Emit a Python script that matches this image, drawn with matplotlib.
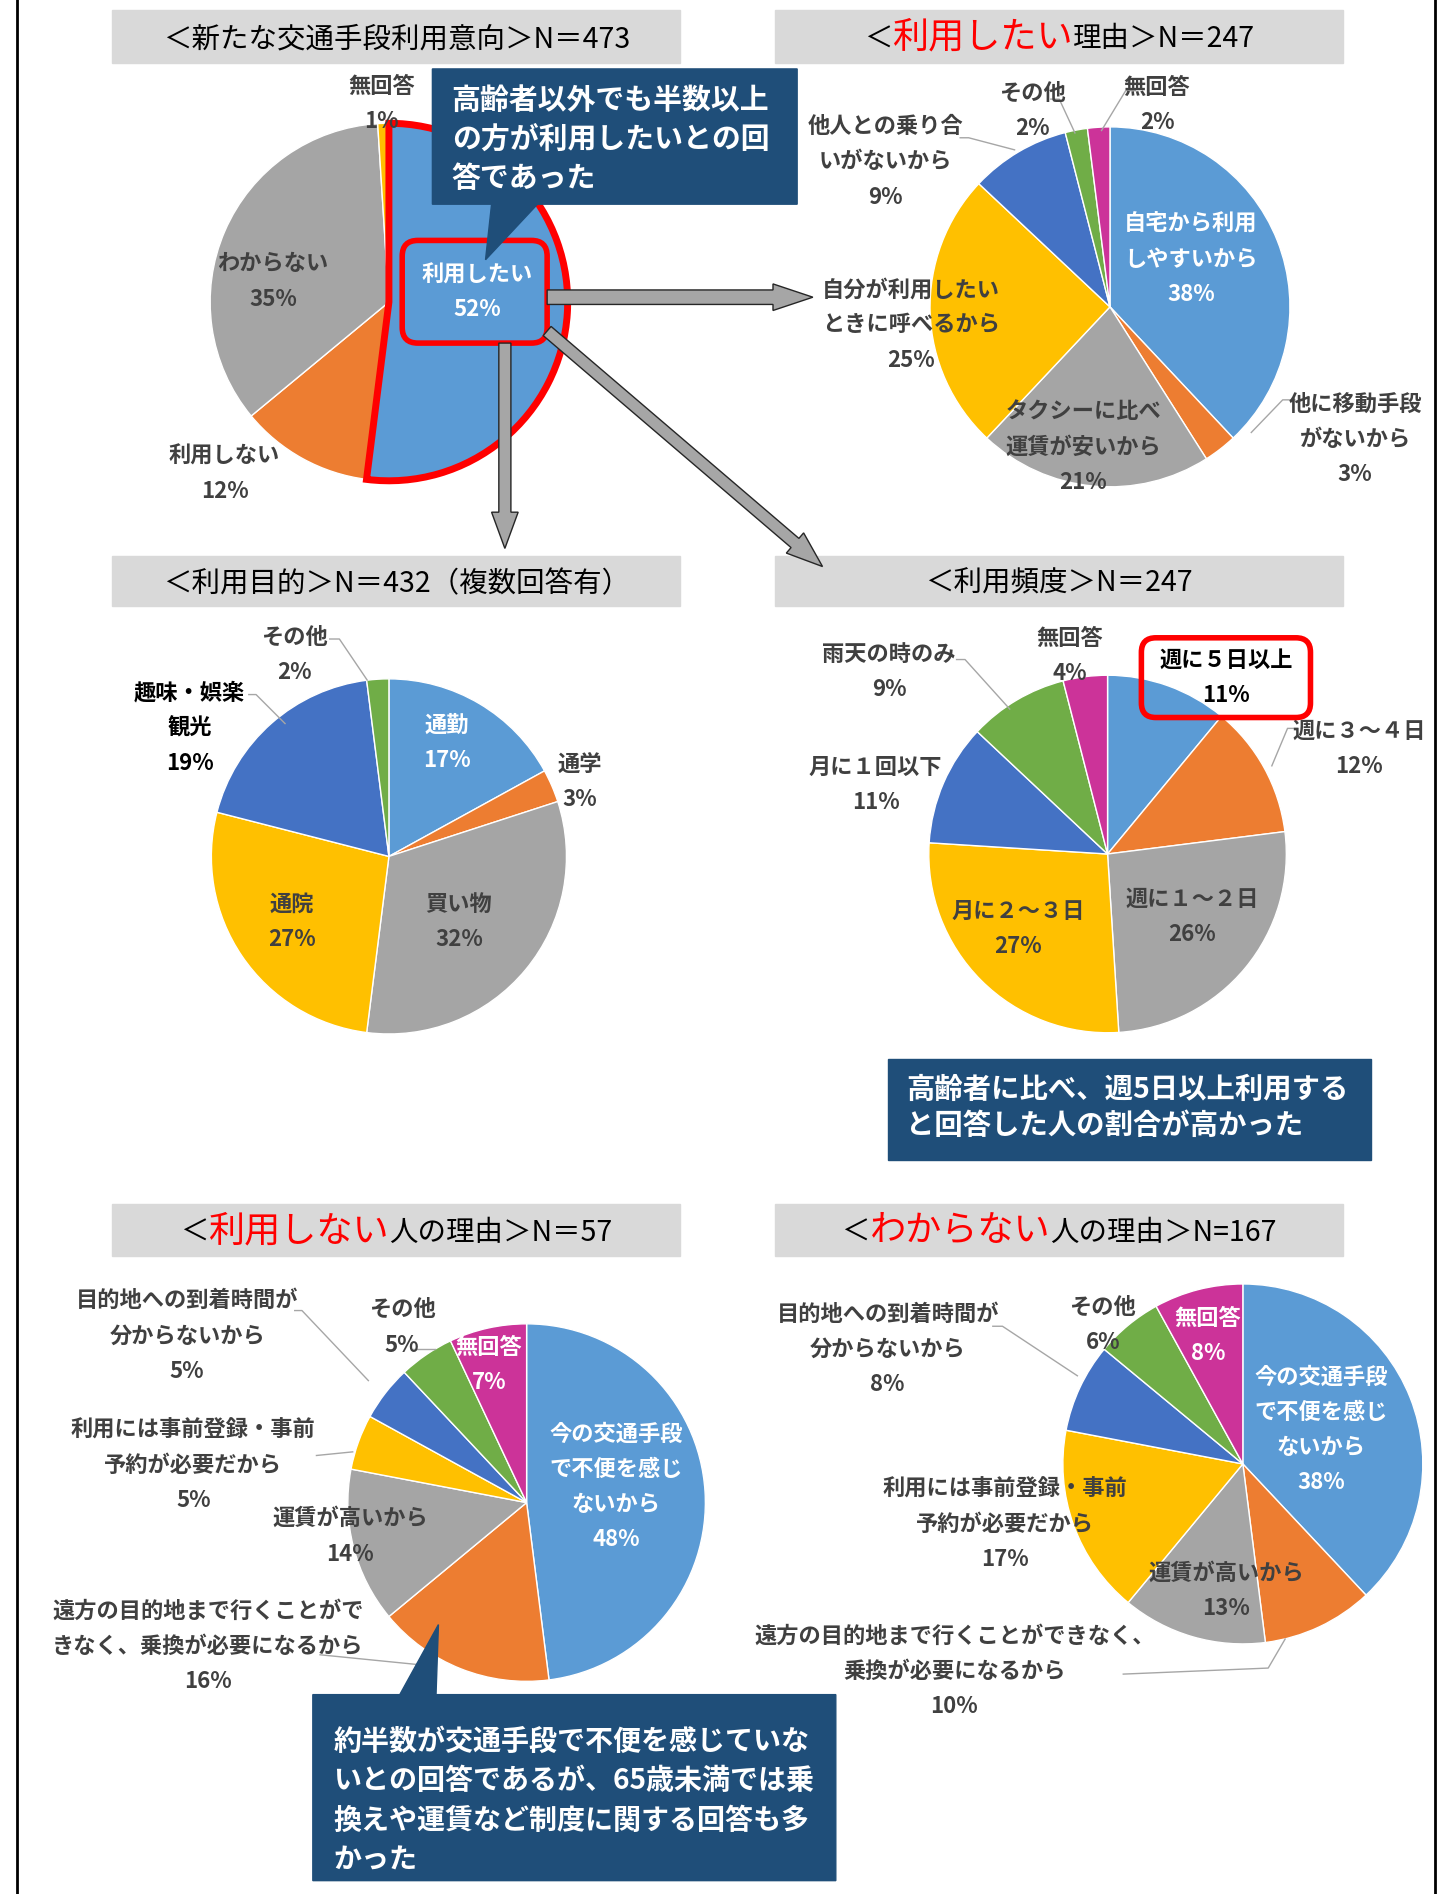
import matplotlib.pyplot as plt
from matplotlib.patches import Rectangle, FancyBboxPatch, Polygon, FancyArrow

plt.rcParams['font.family'] = ['Noto Sans CJK JP', 'DejaVu Sans']

# layout units: reference picture at 1203 x 1568
W, H = 1203, 1568
FIG_PX = 1453

BLUE, ORANGE, GRAY, YELLOW = '#5B9BD5', '#ED7D31', '#A5A5A5', '#FFC000'
DBLUE, GREEN, MAGENTA = '#4472C4', '#70AD47', '#CC3399'
NAVY, TXT = '#1F4E79', '#404040'

# === data ===
intent_labels = ['利用したい', '利用しない', 'わからない', '無回答']
intent_values = [52, 12, 35, 1]

use_reason_labels = ['自宅から利用\nしやすいから', '他に移動手段\nがないから', 'タクシーに比べ\n運賃が安いから',
                     '自分が利用したい\nときに呼べるから', '他人との乗り合\nいがないから', 'その他', '無回答']
use_reason_values = [38, 3, 21, 25, 9, 2, 2]

purpose_labels = ['通勤', '通学', '買い物', '通院', '趣味・娯楽\n観光', 'その他']
purpose_values = [17, 3, 32, 27, 19, 2]

freq_labels = ['週に５日以上', '週に３～４日', '週に１～２日', '月に２～３日', '月に１回以下', '雨天の時のみ', '無回答']
freq_values = [11, 12, 26, 27, 11, 9, 4]

notuse_labels = ['今の交通手段\nで不便を感じ\nないから', '遠方の目的地まで行くことがで\nきなく、乗換が必要になるから',
                 '運賃が高いから', '利用には事前登録・事前\n予約が必要だから', '目的地への到着時間が\n分からないから',
                 'その他', '無回答']
notuse_values = [48, 16, 14, 5, 5, 5, 7]

unknown_labels = ['今の交通手段\nで不便を感じ\nないから', '遠方の目的地まで行くことができなく、\n乗換が必要になるから',
                  '運賃が高いから', '利用には事前登録・事前\n予約が必要だから', '目的地への到着時間が\n分からないから',
                  'その他', '無回答']
unknown_values = [38, 10, 13, 17, 8, 6, 8]

COLS7 = [BLUE, ORANGE, GRAY, YELLOW, DBLUE, GREEN, MAGENTA]


def Y(v):
    return H - v


fig = plt.figure(figsize=(14.53, 18.94), dpi=100)
ax = fig.add_axes([0, 0, 1, 1])
renderer = fig.canvas.get_renderer()

# frame
ax.plot([14, 14], [0, H], color='black', lw=2)
ax.plot([1188, 1188], [0, H], color='black', lw=2)


def title(box, parts):
    x0, y0, x1, y1 = box
    ax.add_patch(Rectangle((x0, Y(y1)), x1 - x0, y1 - y0, color='#D9D9D9', zorder=1))
    base = Y((y0 + y1) / 2 + 9)
    texts = []
    for s, col, size in parts:
        t = ax.text(0, base, s, color=col, fontsize=size, va='baseline', ha='left', zorder=2)
        texts.append(t)
    widths = [t.get_window_extent(renderer).width * W / FIG_PX for t in texts]
    x = (x0 + x1) / 2 - sum(widths) / 2
    for t, w in zip(texts, widths):
        t.set_x(x)
        x += w


def pie(values, labels, colors, center, r, label_pos, label_cols, leaders=()):
    wedges, _ = ax.pie(values, colors=colors, startangle=90, counterclock=False,
                       center=(center[0], Y(center[1])), radius=r, frame=True,
                       wedgeprops=dict(edgecolor='white', linewidth=1))
    for lab, v, (lx, ly), col in zip(labels, values, label_pos, label_cols):
        ax.text(lx, Y(ly), f'{lab}\n{v}%', ha='center', va='center', fontsize=16,
                fontweight='bold', color=col, linespacing=1.68, zorder=7)
    for pts in leaders:
        ax.plot([p[0] for p in pts], [Y(p[1]) for p in pts], color='#A6A6A6', lw=1, zorder=6)
    return wedges


def callout(pts, lines_xy, text, size, spacing):
    ax.add_patch(Polygon([(x, Y(y)) for x, y in pts], closed=True, color=NAVY, zorder=8))
    ax.text(lines_xy[0], Y(lines_xy[1]), text, color='white', fontsize=size, fontweight='bold',
            ha='left', va='center', linespacing=spacing, zorder=9)


def arrow(p0, p1, width, hw, hl):
    ax.add_patch(FancyArrow(p0[0], Y(p0[1]), p1[0] - p0[0], -(p1[1] - p0[1]), width=width,
                            head_width=hw, head_length=hl, length_includes_head=True,
                            facecolor='#A6A6A6', edgecolor='#262626', linewidth=1, zorder=5))


# ===== titles =====
title((93, 8, 563, 52), [('＜新たな交通手段利用意向＞N＝473', 'black', 20.5)])
title((642, 8, 1112, 52), [('＜', 'black', 20.5), ('利用したい', 'red', 26), ('理由＞N＝247', 'black', 20.5)])
title((93, 460, 563, 502), [('＜利用目的＞N＝432（複数回答有）', 'black', 20.5)])
title((642, 460, 1112, 502), [('＜利用頻度＞N＝247', 'black', 20.5)])
title((93, 997, 563, 1040), [('＜', 'black', 20.5), ('利用しない', 'red', 26), ('人の理由＞N＝57', 'black', 20.5)])
title((642, 997, 1112, 1040), [('＜', 'black', 20.5), ('わからない', 'red', 26), ('人の理由＞N=167', 'black', 20.5)])

# ===== pie 1: intention =====
w1 = pie(intent_values, intent_labels, [BLUE, ORANGE, GRAY, YELLOW], (322, 250), 148,
         [(395, 242), (186, 392), (226, 233), (316, 86)], ['white', TXT, TXT, TXT])
w1[0].set_edgecolor('red')
w1[0].set_linewidth(5)
w1[0].set_zorder(3)
ax.add_patch(FancyBboxPatch((333, Y(284)), 120, 85, boxstyle='round,pad=0,rounding_size=13',
                            facecolor='none', edgecolor='red', linewidth=4, zorder=4))

# ===== pie 2: reasons to use =====
pie(use_reason_values, use_reason_labels, COLS7, (919, 254), 149,
    [(986, 215), (1122, 364), (897, 370), (754, 269), (733, 134), (855, 92), (958, 87)],
    ['white', TXT, TXT, TXT, TXT, TXT, TXT],
    [[(795, 114), (802, 114), (840, 124)], [(870, 82), (877, 82), (890, 110)],
     [(940, 75), (932, 75), (912, 108)], [(1072, 331), (1062, 331), (1036, 358)]])

# ===== pie 3: purpose =====
pie(purpose_values, purpose_labels, COLS7[:6], (322, 709), 147,
    [(370, 615), (480, 647), (380, 763), (242, 763), (157, 603), (244, 542)],
    ['white', TXT, TXT, TXT, 'black', TXT],
    [[(273, 529), (281, 529), (304, 563)], [(206, 575), (212, 575), (236, 599)]])

# ===== pie 4: frequency =====
pie(freq_values, freq_labels, COLS7, (917, 707), 148,
    [(1015, 561), (1125, 620), (987, 759), (843, 769), (725, 650), (736, 556), (886, 543)],
    ['black', TXT, TXT, TXT, TXT, TXT, TXT],
    [[(792, 546), (799, 546), (836, 587)], [(1074, 603), (1066, 603), (1053, 634)]])
ax.add_patch(FancyBboxPatch((945, Y(594)), 140, 66, boxstyle='round,pad=0,rounding_size=12',
                            facecolor='none', edgecolor='red', linewidth=4, zorder=8))

# ===== pie 5: reasons not to use =====
pie(notuse_values, notuse_labels, COLS7, (436, 1244), 148,
    [(510, 1231), (172, 1363), (290, 1272), (160, 1213), (155, 1106), (333, 1099), (405, 1130)],
    ['white', TXT, TXT, TXT, TXT, TXT, 'white'],
    [[(244, 1085), (250, 1085), (305, 1143)], [(262, 1205), (292, 1202)],
     [(340, 1117), (360, 1117)], [(265, 1370), (345, 1378)]])

# ===== pie 6: reasons "don't know" =====
pie(unknown_values, unknown_labels, COLS7, (1029, 1212), 149,
    [(1094, 1184), (790, 1384), (1015, 1317), (832, 1262), (735, 1117), (913, 1097), (1000, 1106)],
    ['white', TXT, TXT, TXT, TXT, TXT, 'white'],
    [[(822, 1098), (830, 1098), (892, 1139)], [(930, 1386), (1050, 1381), (1064, 1357)]])

# ===== arrows =====
arrow((453, 246), (673, 246), 12, 22, 33)
arrow((418, 284), (418, 454), 10, 22, 30)
arrow((453, 274), (681, 469), 10, 22, 30)

# ===== callouts =====
callout([(358, 57), (660, 57), (660, 169), (445, 169), (402, 215), (407, 169), (358, 169)],
        (374, 115), '高齢者以外でも半数以上\nの方が利用したいとの回\n答であった', 20.8, 1.38)
callout([(735, 877), (1135, 877), (1135, 960), (735, 960)],
        (750, 917), '高齢者に比べ、週5日以上利用する\nと回答した人の割合が高かった', 20.4, 1.35)
callout([(259, 1403), (331, 1403), (363, 1345), (361, 1403), (692, 1403), (692, 1557), (259, 1557)],
        (276, 1491), '約半数が交通手段で不便を感じていな\nいとの回答であるが、65歳未満では乗\n換えや運賃など制度に関する回答も多\nかった',
        20.2, 1.52)

ax.set_xlim(0, W)
ax.set_ylim(0, H)
ax.set_aspect('equal')
ax.axis('off')

fig.savefig('out.png', dpi=100, facecolor='white')
